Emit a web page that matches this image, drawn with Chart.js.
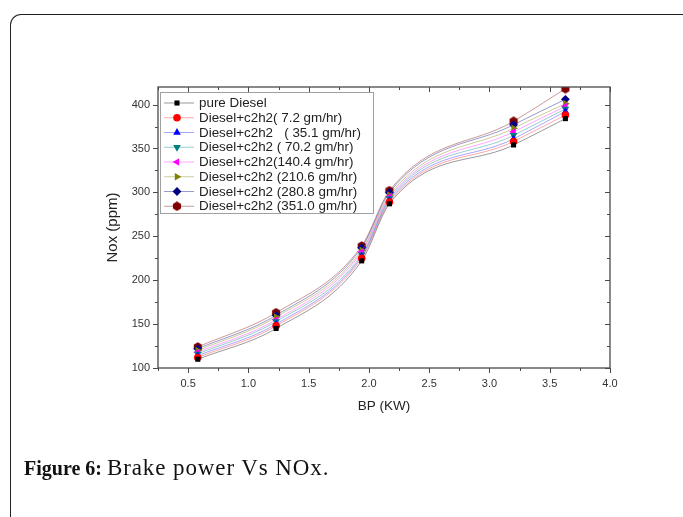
<!DOCTYPE html>
<html>
<head>
<meta charset="utf-8">
<script src="https://cdn.jsdelivr.net/npm/chart.js@4.4.1/dist/chart.umd.min.js"></script>
<style>
  html,body{margin:0;padding:0;background:#fff;}
  body{width:683px;height:517px;position:relative;overflow:hidden;}
  #frame{position:absolute;left:10px;top:14px;width:700px;height:540px;border-left:1.6px solid #222;border-top:1.6px solid #222;border-top-left-radius:11px;box-sizing:border-box;}
  #wrap{position:absolute;left:0;top:0;width:683px;height:517px;}
  #caption{position:absolute;left:24px;top:455px;font-family:"Liberation Serif","DejaVu Serif",serif;font-size:20px;color:#111;white-space:nowrap;}
  #caption b{font-weight:bold;}
  #caption span{font-size:23px;letter-spacing:0.9px;}
</style>
</head>
<body>
<div id="frame"></div>
<div id="wrap"><canvas id="c" width="683" height="517"></canvas></div>
<div id="caption"><b>Figure 6:</b> <span>Brake power Vs NOx.</span></div>
<script>
// ---- data ----
const bp = [0.58, 1.23, 1.94, 2.17, 3.20, 3.63];
const pureDiesel = [110, 145, 222, 287, 354, 384];
const c2h2_7_2   = [112, 148, 225, 289, 358, 388];
const c2h2_35_1  = [114, 150, 227, 291, 361, 392];
const c2h2_70_2  = [116, 153, 229, 293, 365, 395];
const c2h2_140_4 = [118, 155, 232, 295, 369, 398];
const c2h2_210_6 = [120, 158, 234, 297, 373, 401];
const c2h2_280_8 = [122, 160, 237, 300, 377, 406];
const c2h2_351_0 = [124, 163, 239, 302, 381, 418];
const seriesLabels = [
  "pure Diesel",
  "Diesel+c2h2( 7.2 gm/hr)",
  "Diesel+c2h2   ( 35.1 gm/hr)",
  "Diesel+c2h2 ( 70.2 gm/hr)",
  "Diesel+c2h2(140.4 gm/hr)",
  "Diesel+c2h2 (210.6 gm/hr)",
  "Diesel+c2h2 (280.8 gm/hr)",
  "Diesel+c2h2 (351.0 gm/hr)"
];
const xTicks = [0.5, 1.0, 1.5, 2.0, 2.5, 3.0, 3.5, 4.0];
const yTicks = [100, 150, 200, 250, 300, 350, 400];
const xTitle = "BP (KW)";
const yTitle = "Nox (ppm)";

// ---- styles ----
function hexagon(color){
  const cv = document.createElement('canvas');
  cv.width = 10; cv.height = 10;
  const g = cv.getContext('2d');
  g.fillStyle = color;
  g.beginPath();
  for(let i=0;i<6;i++){
    const a = Math.PI/6 + i*Math.PI/3;
    const px = 5 + 4.7*Math.cos(a), py = 5 + 4.7*Math.sin(a);
    if(i===0) g.moveTo(px,py); else g.lineTo(px,py);
  }
  g.closePath(); g.fill();
  return cv;
}
const colors = ['#000000','#ff0000','#0000ff','#008080','#ff00ff','#808000','#000080','#800000'];
const lineColors = ['rgba(0,0,0,0.4)','rgba(255,0,0,0.35)','rgba(0,0,255,0.35)','rgba(0,128,128,0.4)','rgba(255,0,255,0.35)','rgba(128,128,0,0.4)','rgba(0,0,128,0.4)','rgba(128,0,0,0.4)'];
const styles = [
  {s:'rect', r:0, rad:3.6},
  {s:'circle', r:0, rad:3.8},
  {s:'triangle', r:0, rad:4.4},
  {s:'triangle', r:180, rad:4.4},
  {s:'triangle', r:-90, rad:4.4},
  {s:'triangle', r:90, rad:4.4},
  {s:'rectRot', r:0, rad:4.4},
  {s:hexagon('#800000'), r:0, rad:5}
];
const allSeries = [pureDiesel, c2h2_7_2, c2h2_35_1, c2h2_70_2, c2h2_140_4, c2h2_210_6, c2h2_280_8, c2h2_351_0];

const datasets = allSeries.map((vals,i)=>({
  label: seriesLabels[i],
  data: bp.map((x,j)=>({x:x, y:vals[j]})),
  borderColor: lineColors[i],
  backgroundColor: colors[i],
  pointBackgroundColor: colors[i],
  pointBorderColor: colors[i],
  pointBorderWidth: 0,
  pointStyle: styles[i].s,
  pointRotation: styles[i].r,
  pointRadius: styles[i].rad,
  borderWidth: 1,
  cubicInterpolationMode: 'monotone',
  fill: false
}));

const AXIS_COLOR = '#4a4a4a';

const framePlugin = {
  id: 'frameTicks',
  afterDraw(chart){
    const ctx = chart.ctx, a = chart.chartArea;
    const xs = chart.scales.x, ys = chart.scales.y;
    ctx.save();
    ctx.strokeStyle = AXIS_COLOR;
    ctx.lineWidth = 1.3;
    ctx.strokeRect(a.left, a.top, a.right - a.left, a.bottom - a.top);
    ctx.lineWidth = 1;
    ctx.beginPath();
    const majL = 5, minL = 3;
    for(let i=0;i<xTicks.length;i++){
      const px = Math.round(xs.getPixelForValue(xTicks[i])) + 0.5;
      ctx.moveTo(px, a.bottom); ctx.lineTo(px, a.bottom + majL);
      ctx.moveTo(px, a.top); ctx.lineTo(px, a.top + majL);
      const mv = xTicks[i] - 0.25;
      if(mv >= xs.min){
        const pm = Math.round(xs.getPixelForValue(mv)) + 0.5;
        ctx.moveTo(pm, a.bottom); ctx.lineTo(pm, a.bottom + minL);
        ctx.moveTo(pm, a.top); ctx.lineTo(pm, a.top + minL);
      }
    }
    for(let i=0;i<yTicks.length;i++){
      const py = Math.round(ys.getPixelForValue(yTicks[i])) + 0.5;
      ctx.moveTo(a.left, py); ctx.lineTo(a.left - majL, py);
      ctx.moveTo(a.right, py); ctx.lineTo(a.right - majL, py);
      const mv = yTicks[i] + 25;
      if(mv <= ys.max){
        const pm = Math.round(ys.getPixelForValue(mv)) + 0.5;
        ctx.moveTo(a.left, pm); ctx.lineTo(a.left - minL, pm);
        ctx.moveTo(a.right, pm); ctx.lineTo(a.right - minL, pm);
      }
    }
    ctx.stroke();

    // legend inside plot
    const lx = a.left + 2, ly = a.top + 5, lw = 213, lh = 121;
    ctx.fillStyle = '#fff';
    ctx.fillRect(lx, ly, lw, lh);
    ctx.strokeStyle = '#a0a0a0';
    ctx.lineWidth = 1;
    ctx.strokeRect(lx + 0.5, ly + 0.5, lw, lh);
    ctx.font = '13.4px "Liberation Sans", Arial, sans-serif';
    ctx.textBaseline = 'middle';
    ctx.textAlign = 'left';
    chart.data.datasets.forEach((ds,i)=>{
      const yy = ly + 11 + i*14.75;
      ctx.strokeStyle = ds.borderColor;
      ctx.lineWidth = 1;
      ctx.beginPath();
      ctx.moveTo(lx + 4, yy); ctx.lineTo(lx + 34, yy);
      ctx.stroke();
      ctx.fillStyle = ds.pointBackgroundColor;
      ctx.strokeStyle = ds.pointBorderColor;
      Chart.helpers.drawPoint(ctx, {pointStyle: ds.pointStyle, rotation: ds.pointRotation, radius: ds.pointRadius, borderWidth: 0}, lx + 17, yy);
      ctx.fillStyle = '#222';
      ctx.fillText(ds.label, lx + 39, yy + 0.5);
    });
    ctx.restore();
  }
};

new Chart(document.getElementById('c'), {
  type: 'line',
  data: { datasets },
  options: {
    responsive: false,
    animation: false,
    events: [],
    layout: { padding: { left: 104, top: 87, right: 73, bottom: 99 } },
    plugins: { legend: { display: false }, tooltip: { enabled: false } },
    scales: {
      x: {
        type: 'linear', min: 0.25, max: 4.0,
        afterBuildTicks: s => { s.ticks = xTicks.map(v => ({value: v})); },
        afterFit: s => { s.height = 50; },
        grid: { display: false, drawTicks: false },
        border: { display: false },
        ticks: { padding: 9, color: '#333', font: { family: '"Liberation Sans", Arial, sans-serif', size: 11 }, maxRotation: 0,
          callback: v => v.toFixed(1) },
        title: { display: true, text: xTitle, color: '#222', font: { family: '"Liberation Sans", Arial, sans-serif', size: 13.5 }, padding: {top: 2, bottom: 4} }
      },
      y: {
        type: 'linear', min: 100, max: 420,
        afterBuildTicks: s => { s.ticks = yTicks.map(v => ({value: v})); },
        afterFit: s => { s.width = 54; },
        grid: { display: false, drawTicks: false },
        border: { display: false },
        ticks: { padding: 8, color: '#333', font: { family: '"Liberation Sans", Arial, sans-serif', size: 11 },
          callback: v => String(v) },
        title: { display: true, text: yTitle, color: '#222', font: { family: '"Liberation Sans", Arial, sans-serif', size: 15 }, padding: {top: 0, bottom: 4} }
      }
    }
  },
  plugins: [framePlugin]
});
</script>
</body>
</html>
